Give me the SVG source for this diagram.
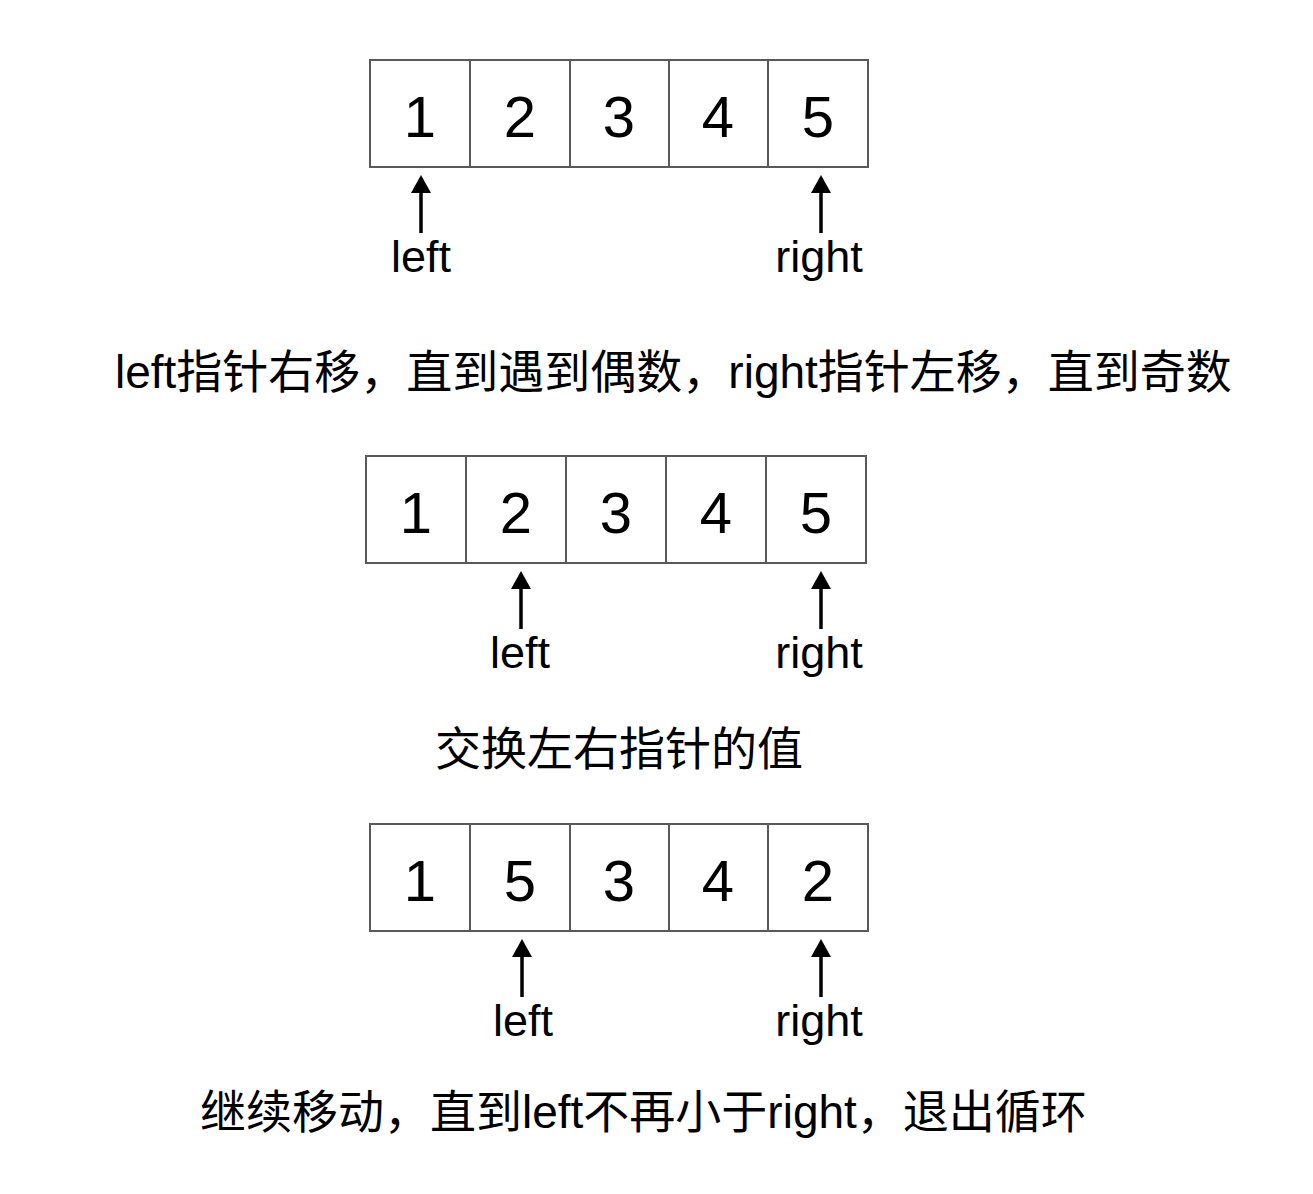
<svg xmlns="http://www.w3.org/2000/svg" width="1313" height="1194" viewBox="0 0 1313 1194">
<style>
.cell{fill:#ffffff;stroke:#595959;stroke-width:2}
.num{font-family:"Liberation Sans",Arial,sans-serif;font-size:58px;fill:#000;text-anchor:middle}
.lbl{font-family:"Liberation Sans",Arial,sans-serif;font-size:45px;fill:#000;text-anchor:middle}
.cap{font-family:"Liberation Sans","Noto Sans CJK SC",sans-serif;font-size:46px;fill:#000}
.arr{stroke:#000;stroke-width:3.5;fill:none;marker-end:url(#ah)}
</style>
<defs>
<marker id="ah" markerUnits="userSpaceOnUse" markerWidth="18" markerHeight="20" viewBox="0 0 18 20" refX="1" refY="10" orient="auto">
<path d="M0,0 L18,10 L0,20 Z" fill="#000"/>
</marker>
</defs>
<rect width="1313" height="1194" fill="#ffffff"/>
<g id="array1">
<rect class="cell" x="370" y="60" width="100" height="107"/>
<rect class="cell" x="470" y="60" width="100" height="107"/>
<rect class="cell" x="570" y="60" width="99" height="107"/>
<rect class="cell" x="669" y="60" width="99" height="107"/>
<rect class="cell" x="768" y="60" width="100" height="107"/>
<text class="num" x="420" y="137">1</text>
<text class="num" x="520" y="137">2</text>
<text class="num" x="619" y="137">3</text>
<text class="num" x="718" y="137">4</text>
<text class="num" x="818" y="137">5</text>
</g>
<g id="array2">
<rect class="cell" x="366" y="456" width="100" height="107"/>
<rect class="cell" x="466" y="456" width="100" height="107"/>
<rect class="cell" x="566" y="456" width="100" height="107"/>
<rect class="cell" x="666" y="456" width="100" height="107"/>
<rect class="cell" x="766" y="456" width="100" height="107"/>
<text class="num" x="416" y="533">1</text>
<text class="num" x="516" y="533">2</text>
<text class="num" x="616" y="533">3</text>
<text class="num" x="716" y="533">4</text>
<text class="num" x="816" y="533">5</text>
</g>
<g id="array3">
<rect class="cell" x="370" y="824" width="100" height="107"/>
<rect class="cell" x="470" y="824" width="100" height="107"/>
<rect class="cell" x="570" y="824" width="99" height="107"/>
<rect class="cell" x="669" y="824" width="99" height="107"/>
<rect class="cell" x="768" y="824" width="100" height="107"/>
<text class="num" x="420" y="901">1</text>
<text class="num" x="520" y="901">5</text>
<text class="num" x="619" y="901">3</text>
<text class="num" x="718" y="901">4</text>
<text class="num" x="818" y="901">2</text>
</g>
<g id="connectors">
<path class="arr" d="M421,233 L421,192"/>
<path class="arr" d="M821,233 L821,192"/>
<path class="arr" d="M521,629 L521,588"/>
<path class="arr" d="M821,629 L821,588"/>
<path class="arr" d="M522,997 L522,956"/>
<path class="arr" d="M821,997 L821,956"/>
</g>
<g id="labels1">
<text class="lbl" x="421" y="272">left</text>
<text class="lbl" x="819" y="272">right</text>
</g>
<g id="labels2">
<text class="lbl" x="520" y="668">left</text>
<text class="lbl" x="819" y="668">right</text>
</g>
<g id="labels3">
<text class="lbl" x="523" y="1036">left</text>
<text class="lbl" x="819" y="1036">right</text>
</g>
<g id="caption1"><text class="cap" x="115" y="388">left指针右移，直到遇到偶数，right指针左移，直到奇数</text></g>
<g id="caption2"><text class="cap" x="435" y="765">交换左右指针的值</text></g>
<g id="caption3"><text class="cap" x="200" y="1128">继续移动，直到left不再小于right，退出循环</text></g>
</svg>
